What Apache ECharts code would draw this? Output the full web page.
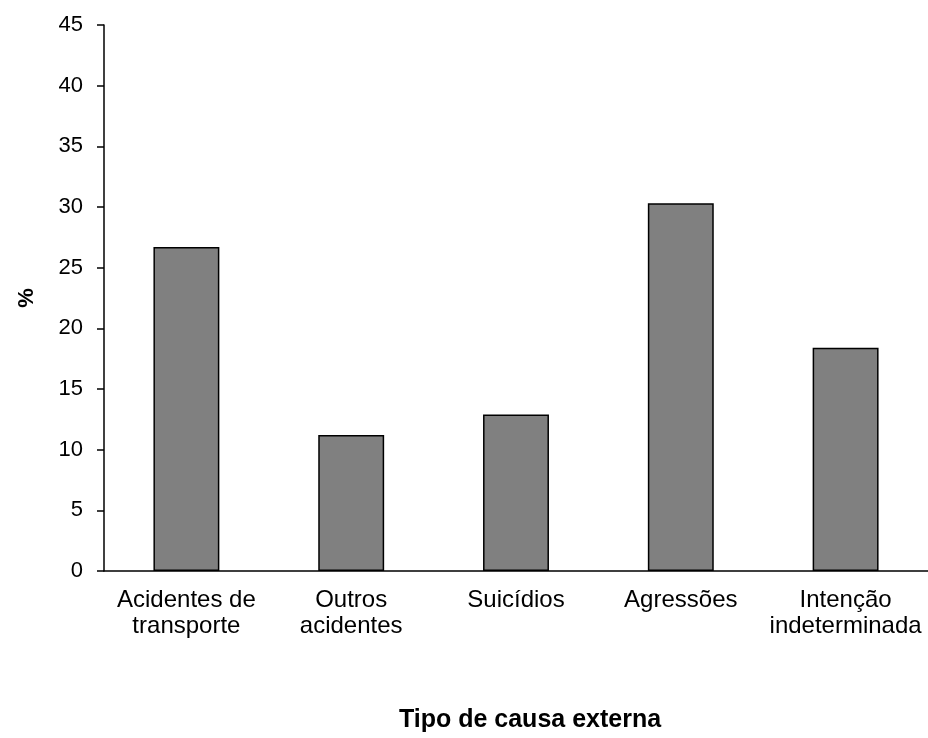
<!DOCTYPE html>
<html>
<head>
<meta charset="utf-8">
<script src="https://cdn.jsdelivr.net/npm/echarts@6/dist/echarts.min.js"></script>
<style>
  html, body { margin: 0; padding: 0; background: #fff; }
  #chart { width: 928px; height: 738px; }
</style>
</head>
<body>
<div id="chart"></div>
<script>
// tipos de causa externa e percentagens
var categories = ['Acidentes de\ntransporte', 'Outros\nacidentes', 'Suicídios', 'Agressões', 'Intenção\nindeterminada'];
var values = [26.7, 11.2, 12.9, 30.3, 18.4];
var yTicks = { min: 0, max: 45, interval: 5 };

var myChart = echarts.init(document.getElementById('chart'));
var font = 'Liberation Sans, Arial, sans-serif';

var option = {
  animation: false,
  grid: {
    left: 104,
    top: 25,
    width: 830,
    height: 559,
    containLabel: false
  },
  xAxis: {
    type: 'category',
    data: categories,
    name: 'Tipo de causa externa',
    nameLocation: 'middle',
    nameGap: 137,
    nameTextStyle: {
      fontFamily: font, fontSize: 25, fontWeight: 'bold', color: '#000',
      padding: [0, 0, 0, 28]
    },
    axisLine: { lineStyle: { color: '#000', width: 1.5 } },
    axisTick: { show: false },
    axisLabel: {
      interval: 0,
      margin: 16,
      fontFamily: font,
      fontSize: 24,
      lineHeight: 26,
      color: '#000'
    },
    splitLine: { show: false }
  },
  yAxis: {
    type: 'value',
    min: yTicks.min,
    max: yTicks.max,
    interval: yTicks.interval,
    name: '%',
    nameLocation: 'middle',
    nameGap: 66,
    nameTextStyle: { fontFamily: font, fontSize: 22, fontWeight: 'bold', color: '#000' },
    axisLine: { show: true, lineStyle: { color: '#000', width: 1.5 } },
    axisTick: { show: true, length: 7, lineStyle: { color: '#000', width: 1.5 } },
    axisLabel: { margin: 21, fontFamily: font, fontSize: 22, color: '#000' },
    splitLine: { show: false }
  },
  series: [
    {
      type: 'bar',
      data: values,
      barWidth: '40%',
      itemStyle: { color: '#808080', borderColor: '#000', borderWidth: 1.5 }
    }
  ]
};

myChart.setOption(option);
window.addEventListener('resize', function () {
  myChart.resize();
});
</script>
</body>
</html>
